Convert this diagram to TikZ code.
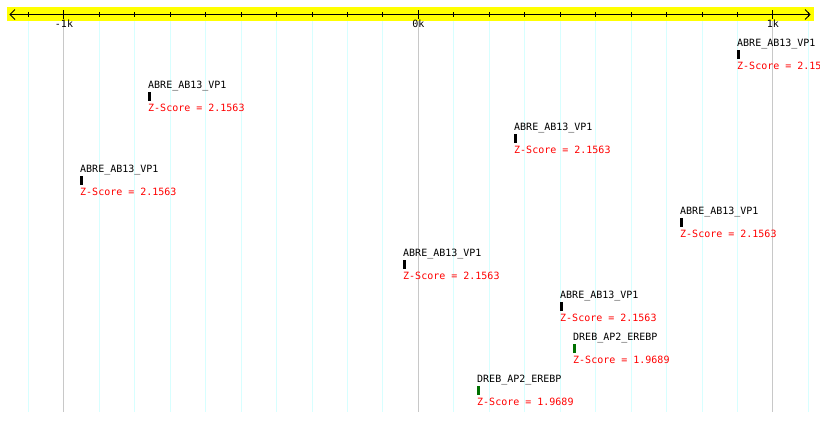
\documentclass[tikz,border=0pt]{standalone}
\usepackage{fontspec}
\setmonofont{DejaVu Sans Mono}
\definecolor{hitgreen}{RGB}{0,112,0}
\definecolor{majgrid}{RGB}{200,200,200}
\definecolor{mingrid}{RGB}{215,255,255}
\definecolor{baryellow}{RGB}{255,255,0}
\begin{document}
\begin{tikzpicture}[x=1pt,y=-1pt,
  font=\ttfamily\fontsize{10}{12}\selectfont,
  lbl/.style={anchor=base west, inner sep=0pt, text=black},
  zs/.style={anchor=base west, inner sep=0pt, text=red},
  hit/.style={fill=#1, draw=none, minimum width=3pt, minimum height=9pt, inner sep=0pt, anchor=north west},
  ticklbl/.style={anchor=base, inner sep=0pt, text=black},
  axisline/.style={draw=black, line width=1pt},
  mingridline/.style={draw=mingrid, line width=1pt},
  majgridline/.style={draw=majgrid, line width=1pt}]
\useasboundingbox (0,0) rectangle (820,421);
\clip (0,0) rectangle (820,421);
% grid
\foreach \i in {-11,...,11}{
  \pgfmathsetmacro\xx{418.4+35.45*\i}
  \draw[mingridline] (\xx,21) -- (\xx,412);
}
\foreach \i in {-10,0,10}{
  \pgfmathsetmacro\xx{418.4+35.45*\i}
  \draw[majgridline] (\xx,21) -- (\xx,412);
}
% axis bar
\fill[baryellow] (7,7) rectangle (814,21);
\coordinate (axL) at (10,14.5);
\coordinate (axR) at (810,14.5);
\draw[axisline] (axL) -- (axR);
\draw[line width=0.9pt] (15,9.5) -- (axL) -- (15,19.5);
\draw[line width=0.9pt] (805,9.5) -- (axR) -- (805,19.5);
\foreach \i in {-11,...,11}{
  \pgfmathsetmacro\xx{418.4+35.45*\i}
  \draw[line width=1pt] (\xx,12) -- (\xx,17);
}
\foreach \i in {-10,0,10}{
  \pgfmathsetmacro\xx{418.4+35.45*\i}
  \draw[line width=1pt] (\xx,10) -- (\xx,19);
}
\node[ticklbl] (tm1) at (64,27.5) {-1k};
\node[ticklbl] (t0) at (418.4,27.5) {0k};
\node[ticklbl] (t1) at (772.9,27.5) {1k};
% hits
\node[lbl] (l0) at (737,46) {ABRE\_AB13\_VP1};
\node[hit=black] (b0) at (737,50) {};
\node[zs] (z0) at (737,69.5) {Z-Score = 2.1563};

\node[lbl] (l1) at (148,88) {ABRE\_AB13\_VP1};
\node[hit=black] (b1) at (148,92) {};
\node[zs] (z1) at (148,111.5) {Z-Score = 2.1563};

\node[lbl] (l2) at (514,130) {ABRE\_AB13\_VP1};
\node[hit=black] (b2) at (514,134) {};
\node[zs] (z2) at (514,153.5) {Z-Score = 2.1563};

\node[lbl] (l3) at (80,172) {ABRE\_AB13\_VP1};
\node[hit=black] (b3) at (80,176) {};
\node[zs] (z3) at (80,195.5) {Z-Score = 2.1563};

\node[lbl] (l4) at (680,214) {ABRE\_AB13\_VP1};
\node[hit=black] (b4) at (680,218) {};
\node[zs] (z4) at (680,237.5) {Z-Score = 2.1563};

\node[lbl] (l5) at (403,256) {ABRE\_AB13\_VP1};
\node[hit=black] (b5) at (403,260) {};
\node[zs] (z5) at (403,279.5) {Z-Score = 2.1563};

\node[lbl] (l6) at (560,298) {ABRE\_AB13\_VP1};
\node[hit=black] (b6) at (560,302) {};
\node[zs] (z6) at (560,321.5) {Z-Score = 2.1563};

\node[lbl] (l7) at (573,340) {DREB\_AP2\_EREBP};
\node[hit=hitgreen] (b7) at (573,344) {};
\node[zs] (z7) at (573,363.5) {Z-Score = 1.9689};

\node[lbl] (l8) at (477,382) {DREB\_AP2\_EREBP};
\node[hit=hitgreen] (b8) at (477,386) {};
\node[zs] (z8) at (477,405.5) {Z-Score = 1.9689};
\end{tikzpicture}
\end{document}
